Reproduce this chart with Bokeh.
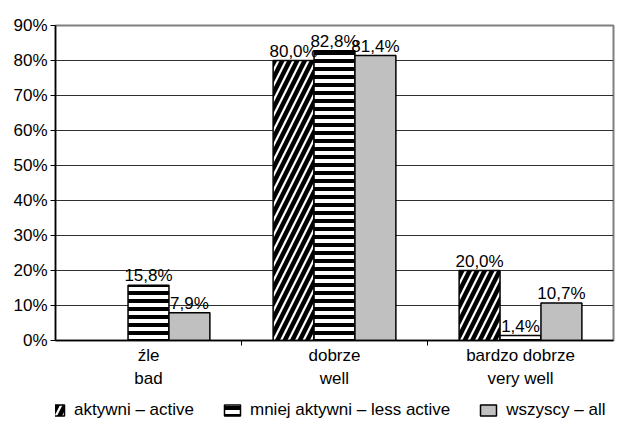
import math

from bokeh.core.properties import value
from bokeh.embed import file_html
from bokeh.layouts import column
from bokeh.models import (ColumnDataSource, FixedTicker, LabelSet, Legend,
                          LegendItem, Range1d)
from bokeh.plotting import figure
from bokeh.resources import INLINE

# Survey answers (% of respondents) per group
categories = ["źle\nbad", "dobrze\nwell", "bardzo dobrze\nvery well"]
active = [math.nan, 80.0, 20.0]
less_active = [15.8, 82.8, 1.4]
all_resp = [7.9, 81.4, 10.7]
series_names = ["aktywni – active", "mniej aktywni – less active", "wszyscy – all"]
y_ticks = [0, 10, 20, 30, 40, 50, 60, 70, 80, 90]

FONT = "Liberation Sans"
FS = "17px"

p = figure(width=619, height=392, output_backend="svg", toolbar_location=None,
           x_range=Range1d(0, 3), y_range=Range1d(0, 90),
           min_border_left=55, min_border_right=6, min_border_top=25,
           min_border_bottom=52, outline_line_color="#808080",
           outline_line_width=2)
p.background_fill_color = "white"
p.border_fill_color = "white"

bar_w = 0.22
offsets = [-bar_w, 0.0, bar_w]
styles = [
    dict(fill_color="white", hatch_pattern="/", hatch_color="black",
         hatch_scale=15, hatch_weight=4.5),
    dict(fill_color="white", hatch_pattern="-", hatch_color="black",
         hatch_scale=8, hatch_weight=4),
    dict(fill_color="#C0C0C0"),
]

for vals, off, st in zip([active, less_active, all_resp], offsets, styles):
    xs = [i + 0.5 + off for i in range(len(categories))]
    src = ColumnDataSource(dict(x=xs, top=vals))
    p.vbar(x="x", top="top", width=bar_w, source=src,
           line_color="black", line_width=1.5, **st)

    lx, ly, lt = [], [], []
    for x, v in zip(xs, vals):
        if not math.isnan(v):
            lx.append(x)
            ly.append(v)
            lt.append(f"{v:.1f}".replace(".", ",") + "%")
    lab_src = ColumnDataSource(dict(x=lx, y=ly, t=lt))
    p.add_layout(LabelSet(x="x", y="y", text="t", source=lab_src,
                          text_align="center", text_baseline="alphabetic",
                          y_offset=4, text_font=value(FONT),
                          text_font_size=value(FS), text_color="black"))

# y axis: percentage ticks with grid lines
p.yaxis.ticker = FixedTicker(ticks=y_ticks)
p.yaxis.major_label_overrides = {t: f"{t}%" for t in y_ticks}
p.yaxis.major_label_text_font = FONT
p.yaxis.major_label_text_font_size = FS
p.yaxis.major_label_text_color = "black"
p.yaxis.axis_line_color = "black"
p.yaxis.axis_line_width = 1.5
p.yaxis.major_tick_out = 5
p.yaxis.major_tick_in = 0
p.yaxis.major_tick_line_color = "black"
p.yaxis.minor_tick_line_color = None
p.yaxis.major_label_standoff = 3

# x axis: labels at category centres, tick marks between categories
p.xaxis.ticker = FixedTicker(ticks=[0.5, 1.5, 2.5], minor_ticks=[1, 2])
p.xaxis.major_label_overrides = {0.5: categories[0], 1.5: categories[1],
                                 2.5: categories[2]}
p.xaxis.major_label_text_font = FONT
p.xaxis.major_label_text_font_size = FS
p.xaxis.major_label_text_color = "black"
p.xaxis.major_label_text_line_height = 1.25
p.xaxis.axis_line_color = "black"
p.xaxis.axis_line_width = 1.5
p.xaxis.major_tick_out = 0
p.xaxis.major_tick_in = 0
p.xaxis.minor_tick_out = 5
p.xaxis.minor_tick_in = 0
p.xaxis.minor_tick_line_color = "black"
p.xaxis.major_label_standoff = 0

p.xgrid.grid_line_color = None
p.ygrid.grid_line_color = "#303030"
p.ygrid.grid_line_width = 1

# Legend strip under the chart; the swatch renderers carry no drawable bar,
# only the fill/hatch styling that the legend shows
leg = figure(width=619, height=32, output_backend="svg", toolbar_location=None,
             x_range=Range1d(0, 1), y_range=Range1d(0, 1), min_border=0,
             outline_line_color=None)
leg.axis.visible = False
leg.grid.grid_line_color = None
swatches = [leg.vbar(x=[0.5], top=[math.nan], width=0.1, line_color="black",
                     line_width=1.5, **st) for st in styles]
legend = Legend(
    items=[LegendItem(label=n, renderers=[r]) for n, r in zip(series_names, swatches)],
    orientation="horizontal", location=(-9, 4),
    label_text_font=FONT, label_text_font_size=FS, label_text_color="black",
    glyph_width=20, glyph_height=14, label_standoff=8, spacing=28,
    border_line_color=None, background_fill_alpha=0, padding=4, margin=0)
leg.add_layout(legend, "center")

open("out.html", "w").write(file_html(column(p, leg, spacing=0), INLINE))
